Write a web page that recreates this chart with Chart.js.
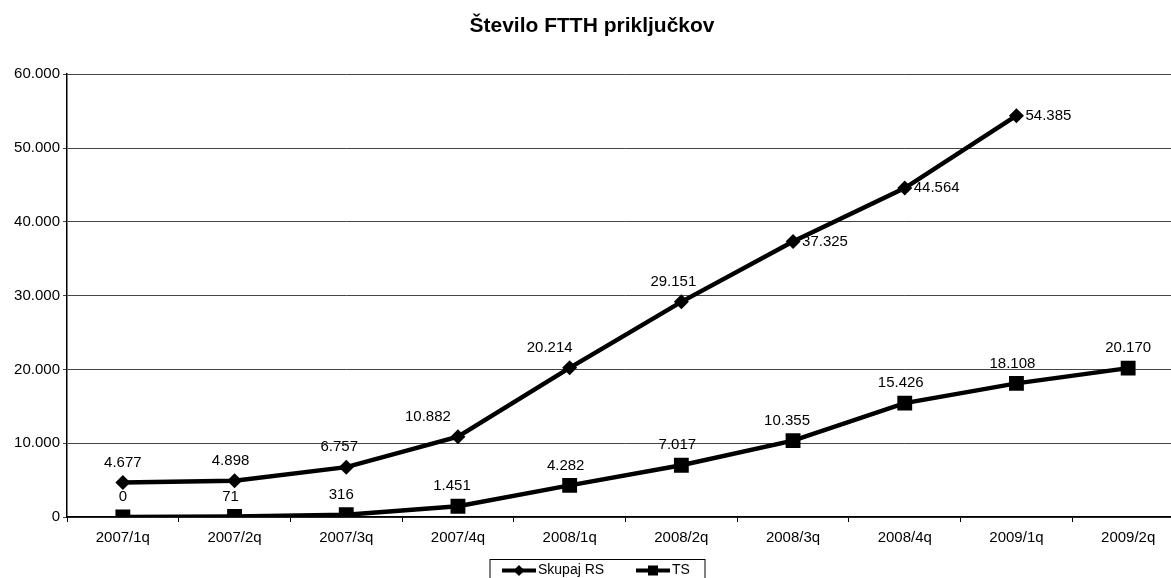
<!DOCTYPE html>
<html>
<head>
<meta charset="utf-8">
<title>Število FTTH priključkov</title>
<script src="https://cdn.jsdelivr.net/npm/chart.js@4/dist/chart.umd.min.js"></script>
<style>
  html, body { margin: 0; padding: 0; background: #fff; overflow: hidden; }
  #wrap { width: 1196px; height: 578px; }
</style>
</head>
<body>
<div id="wrap"><canvas id="ftth-chart" width="1196" height="578"></canvas></div>
<script>
const quarters = ['2007/1q', '2007/2q', '2007/3q', '2007/4q', '2008/1q', '2008/2q', '2008/3q', '2008/4q', '2009/1q', '2009/2q'];
const skupajRS = [4677, 4898, 6757, 10882, 20214, 29151, 37325, 44564, 54385, null];
const ts = [0, 71, 316, 1451, 4282, 7017, 10355, 15426, 18108, 20170];
const yTicks = [0, 10000, 20000, 30000, 40000, 50000, 60000];

// label nudges (px) to follow the original placement
const labelShift = [
    [0, -4, -7, -30, -20, -8, 0, 0, 0, 0],
    [0, -4, -5, -6, -4, -4, -6, -4, -4, 0]
];
const labelRight = [[6, 7, 8], []];

const FONT = '"Liberation Sans", Arial, sans-serif';
Chart.defaults.font.family = FONT;
Chart.defaults.color = '#000';

function fmt(v) {
    return String(v).replace(/\B(?=(\d{3})+(?!\d))/g, '.');
}

const valueLabels = {
    id: 'valueLabels',
    afterDatasetsDraw(chart) {
        const ctx = chart.ctx;
        ctx.save();
        ctx.font = '15px ' + FONT;
        ctx.fillStyle = '#000';
        chart.data.datasets.forEach((ds, di) => {
            chart.getDatasetMeta(di).data.forEach((pt, i) => {
                const v = ds.data[i];
                if (v === null || v === undefined) return;
                ctx.textBaseline = 'middle';
                if (labelRight[di].includes(i)) {
                    ctx.textAlign = 'left';
                    ctx.fillText(fmt(v), pt.x + 9, pt.y);
                } else {
                    ctx.textAlign = 'center';
                    ctx.fillText(fmt(v), pt.x + labelShift[di][i], pt.y - 20);
                }
            });
        });
        ctx.restore();
    }
};

function marker(ctx, style, x, y, r) {
    ctx.beginPath();
    if (style === 'rectRot') {
        ctx.moveTo(x, y - r); ctx.lineTo(x + r, y); ctx.lineTo(x, y + r); ctx.lineTo(x - r, y);
    } else {
        ctx.rect(x - r, y - r, 2 * r, 2 * r);
    }
    ctx.closePath();
    ctx.fill();
}

const boxLegend = {
    id: 'boxLegend',
    afterDraw(chart) {
        const ctx = chart.ctx;
        const w = 215, h = 40;
        const x0 = chart.width / 2 - w / 2 - 0.5, y0 = 559.5;
        ctx.save();
        ctx.strokeStyle = '#000';
        ctx.lineWidth = 1;
        ctx.strokeRect(x0, y0, w, h);
        ctx.font = '14px ' + FONT;
        ctx.fillStyle = '#000';
        ctx.textAlign = 'left';
        ctx.textBaseline = 'middle';
        const items = [
            { ds: chart.data.datasets[0], lx: 12, r: 5.5 },
            { ds: chart.data.datasets[1], lx: 146, r: 5 }
        ];
        const ly = y0 + 11;
        items.forEach(it => {
            ctx.strokeStyle = '#000';
            ctx.lineWidth = 4;
            ctx.beginPath();
            ctx.moveTo(x0 + it.lx, ly);
            ctx.lineTo(x0 + it.lx + 34, ly);
            ctx.stroke();
            marker(ctx, it.ds.pointStyle, x0 + it.lx + 17, ly, it.r);
            ctx.fillText(it.ds.label, x0 + it.lx + 36, ly);
        });
        ctx.restore();
    }
};

new Chart(document.getElementById('ftth-chart'), {
    type: 'line',
    data: {
        labels: quarters,
        datasets: [{
            label: 'Skupaj RS',
            data: skupajRS,
            borderColor: '#000',
            backgroundColor: '#000',
            borderWidth: 4.5,
            pointStyle: 'rectRot',
            pointRadius: 7.5,
            pointBorderWidth: 0,
            tension: 0,
            spanGaps: false
        }, {
            label: 'TS',
            data: ts,
            borderColor: '#000',
            backgroundColor: '#000',
            borderWidth: 4.5,
            pointStyle: 'rect',
            pointRadius: 10.5,
            pointBorderWidth: 0,
            tension: 0
        }]
    },
    options: {
        responsive: false,
        animation: false,
        layout: { padding: { left: 0, right: 12, top: 0, bottom: 24 } },
        plugins: {
            legend: { display: false },
            tooltip: { enabled: false },
            title: {
                display: true,
                text: 'Število FTTH priključkov',
                color: '#000',
                font: { family: FONT, size: 21, weight: 'bold' },
                padding: { top: 14, bottom: 35 }
            }
        },
        scales: {
            x: {
                offset: true,
                grid: { display: true, drawOnChartArea: false, offset: true, tickLength: 5, color: '#000' },
                border: { color: '#000', width: 1.5 },
                ticks: { color: '#000', font: { size: 15 }, padding: 7, maxRotation: 0, autoSkip: false }
            },
            y: {
                min: 0,
                max: 60000,
                afterBuildTicks: s => { s.ticks = yTicks.map(v => ({ value: v })); },
                afterFit: s => { s.width = 67; },
                grid: { color: '#444', tickLength: 4 },
                border: { color: '#000', width: 1.5 },
                ticks: { color: '#000', font: { size: 15 }, padding: 3, callback: v => fmt(v) }
            }
        }
    },
    plugins: [valueLabels, boxLegend]
});
</script>
</body>
</html>
